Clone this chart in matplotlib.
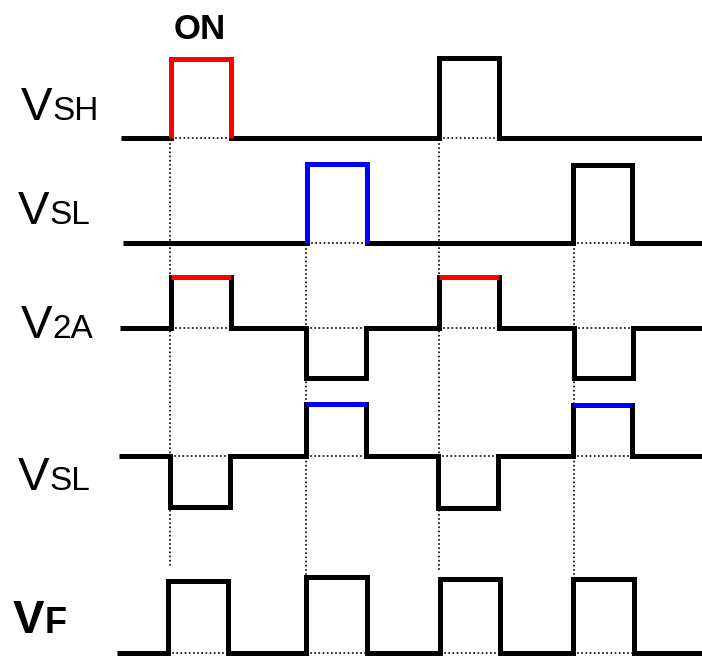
import matplotlib.pyplot as plt

# === Waveform data (x in image px, y in image px, y grows downward) ===
# each row: start x, baseline level, list of pulses (rise, fall, level)
row_starts = [121, 123, 120, 119, 117]
row_baselines = [138, 243, 328, 456, 653]

vsh_pulses = [(171, 231, 59), (439, 499, 58)]
vsl_pulses = [(307, 367, 164), (573, 632, 165)]
v2a_pulses = [(171, 231, 277), (306, 366, 378), (439, 499, 277), (574, 633, 378)]
vsl2_pulses = [(170, 230, 507), (306, 366, 404), (438, 498, 508), (573, 632, 405)]
vf_pulses = [(168, 228, 581), (306, 367, 577), (440, 500, 579), (573, 634, 579)]

all_pulses = [vsh_pulses, vsl_pulses, v2a_pulses, vsl2_pulses, vf_pulses]

# highlighted pulses: (row, pulse index, colour, whole pulse or only top)
highlights = [
    (0, 0, "red", "full"),
    (1, 0, "blue", "full"),
    (2, 0, "red", "top"),
    (2, 2, "red", "top"),
    (3, 1, "blue", "top"),
    (3, 3, "blue", "top"),
]

# vertical dotted guides: x, top, bottom
guide_x = [170, 306, 439, 574]
guide_top = [139, 244, 139, 244]
guide_bottom = [568, 575, 572, 575]

# labels: main letter, small letters, bold, baseline y, x of V
label_main = ["V", "V", "V", "V", "V"]
label_small = ["SH", "SL", "2A", "SL", "F"]
label_bold = [False, False, False, False, True]
label_base = [120, 224, 338, 490, 633]
label_x = [21, 18, 21, 18, 13]

END_X = 702
LW = 3.6

plt.rcParams["font.family"] = ["Liberation Sans", "DejaVu Sans"]

fig = plt.figure(figsize=(7.02, 6.57), dpi=100)
ax = fig.add_axes([0, 0, 1, 1])
ax.set_xlim(0, 702)
ax.set_ylim(657, 0)
ax.axis("off")

# dotted guides
for gx, gt, gb in zip(guide_x, guide_top, guide_bottom):
    ax.plot([gx, gx], [gt, gb], color="black", lw=1.2, ls=(0, (1, 1.5)), zorder=1)

for start, base, pulses in zip(row_starts, row_baselines, all_pulses):
    xs = [start]
    ys = [base]
    for rise, fall, level in pulses:
        xs += [rise, rise, fall, fall]
        ys += [base, level, level, base]
        # dotted baseline under the pulse
        ax.plot([rise, fall], [base, base], color="black", lw=1.2,
                ls=(0, (1, 1.5)), zorder=1)
    xs.append(END_X)
    ys.append(base)
    ax.plot(xs, ys, color="black", lw=LW, solid_joinstyle="miter",
            solid_capstyle="butt", zorder=2)

for row, idx, col, kind in highlights:
    base = row_baselines[row]
    rise, fall, level = all_pulses[row][idx]
    if kind == "full":
        ax.plot([rise, rise, fall, fall], [base, level, level, base], color=col,
                lw=LW, solid_joinstyle="miter", solid_capstyle="butt", zorder=3)
    else:
        ax.plot([rise, fall], [level, level], color=col, lw=LW,
                solid_capstyle="butt", zorder=3)

# labels
for main, small, bold, yb, xv in zip(label_main, label_small, label_bold,
                                     label_base, label_x):
    w = "bold" if bold else "normal"
    ax.text(xv, yb, main, fontsize=34, fontweight=w, va="baseline", ha="left")
    ax.text(xv + (32 if bold else 31), yb, small, fontsize=24 if not bold else 26,
            fontweight=w, va="baseline", ha="left")

ax.text(200, 39, "ON", fontsize=25, fontweight="bold", va="baseline", ha="center")

fig.savefig("out.png", dpi=100)
